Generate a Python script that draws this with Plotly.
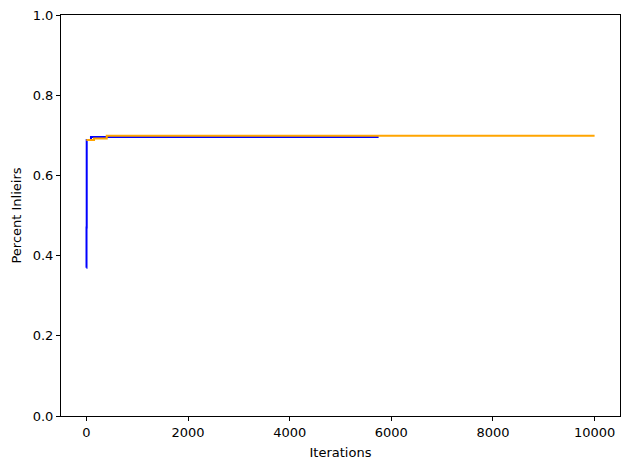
import plotly.graph_objects as go

# Data
blue_iters = [0, 2, 6, 90, 5750]
blue_vals = [0.37, 0.47, 0.688, 0.696, 0.696]

orange_iters = [0, 150, 400, 10000]
orange_vals = [0.688, 0.692, 0.699, 0.699]

x_ticks = [0, 2000, 4000, 6000, 8000, 10000]
y_ticks = [0.0, 0.2, 0.4, 0.6, 0.8, 1.0]

fig = go.Figure()
fig.add_trace(go.Scatter(x=blue_iters, y=blue_vals, mode="lines",
                         line=dict(color="#0000ff", width=2, shape="hv"),
                         showlegend=False))
fig.add_trace(go.Scatter(x=orange_iters, y=orange_vals, mode="lines",
                         line=dict(color="#ffa500", width=2, shape="hv"),
                         showlegend=False))

font = "DejaVu Sans"
# page body has an 8px default margin, so the figure is sized/offset to compensate
fig.update_layout(
    width=622, height=462,
    margin=dict(l=53, r=10, t=7, b=54),
    paper_bgcolor="white", plot_bgcolor="white",
    font=dict(family=font, size=13, color="black"),
)
fig.update_xaxes(
    range=[-500, 10500], tickvals=x_ticks, ticktext=[str(v) for v in x_ticks],
    showgrid=False, zeroline=False, showline=True, linecolor="black", linewidth=1,
    mirror=True, ticks="outside", ticklen=4, tickwidth=1, tickcolor="black",
    automargin=False, ticklabeloverflow="allow",
    title=dict(text="Iterations", font=dict(size=13), standoff=9),
)
fig.update_yaxes(
    range=[0, 1], tickvals=y_ticks, ticktext=[f"{v:.1f}" for v in y_ticks],
    showgrid=False, zeroline=False, showline=True, linecolor="black", linewidth=1,
    mirror=True, ticks="outside", ticklen=4, tickwidth=1, tickcolor="black",
    automargin=False, ticklabeloverflow="allow",
    title=dict(text="Percent Inlieirs", font=dict(size=13), standoff=8),
)

fig.write_html("out.html")
